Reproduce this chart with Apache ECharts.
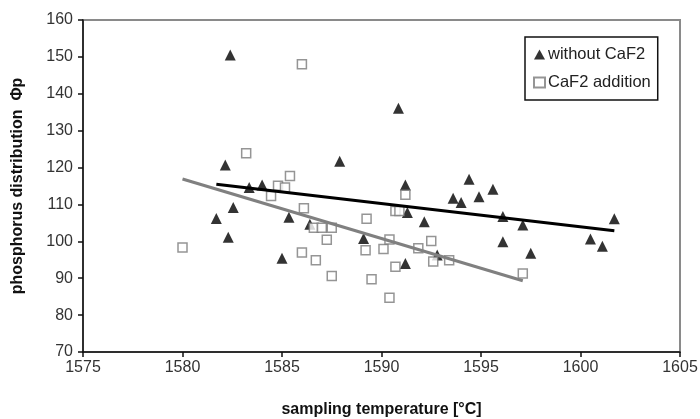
<!DOCTYPE html>
<html>
<head>
<meta charset="utf-8">
<script src="https://cdn.jsdelivr.net/npm/echarts@6/dist/echarts.min.js"></script>
<style>
html,body{margin:0;padding:0;background:#fff;}
#chart{width:700px;height:419px;}
</style>
</head>
<body>
<div id="chart"></div>
<script>
// without CaF2 (black triangles)
var withoutX = [1582.4, 1582.15, 1581.7, 1582.3, 1582.55, 1583.35, 1584.0, 1585.0, 1585.35, 1586.4,
                1587.9, 1589.1, 1590.85, 1591.2, 1591.3, 1591.2, 1592.15, 1592.8, 1593.6, 1594.0,
                1594.4, 1594.9, 1595.6, 1596.1, 1596.1, 1597.1, 1597.5, 1600.5, 1601.1, 1601.7];
var withoutY = [150.5, 120.7, 106.2, 101.1, 109.2, 114.6, 115.3, 95.4, 106.5, 104.6,
                121.7, 100.8, 136.1, 115.3, 107.8, 94.0, 105.3, 96.3, 111.7, 110.5,
                116.8, 112.1, 114.1, 106.7, 99.9, 104.4, 96.8, 100.6, 98.7, 106.1];
// CaF2 addition (hollow grey squares)
var caf2X = [1580.0, 1583.2, 1584.45, 1584.8, 1585.15, 1585.4, 1586.0, 1586.1, 1586.0, 1586.6,
             1587.0, 1587.5, 1587.25, 1586.7, 1587.5, 1589.25, 1589.2, 1589.5, 1590.1, 1590.4,
             1590.4, 1590.7, 1590.9, 1590.7, 1591.2, 1591.85, 1592.5, 1592.6, 1593.4, 1597.1];
var caf2Y = [98.3, 123.9, 112.3, 115.1, 114.6, 117.7, 148.0, 109.0, 97.0, 103.7,
             103.7, 103.7, 100.4, 94.9, 90.6, 106.1, 97.6, 89.7, 97.9, 100.5,
             84.7, 108.2, 108.2, 93.1, 112.6, 98.1, 100.1, 94.5, 94.9, 91.3];
// trend line end points
var trendWithoutX = [1581.7, 1601.7];
var trendWithoutY = [115.5, 102.9];
var trendCaf2X = [1580.0, 1597.1];
var trendCaf2Y = [116.9, 89.3];
// axes
var xTicks = [1575, 1580, 1585, 1590, 1595, 1600, 1605];
var yTicks = [70, 80, 90, 100, 110, 120, 130, 140, 150, 160];
var seriesNames = ['without CaF2', 'CaF2 addition'];

function zip(a, b) { return a.map(function (v, i) { return [v, b[i]]; }); }

var chart = echarts.init(document.getElementById('chart'), null, {renderer: 'canvas'});
var font = 'Arial, "Liberation Sans", sans-serif';
chart.setOption({
  animation: false,
  backgroundColor: '#fff',
  grid: {left: 83, right: 20, top: 20, bottom: 67, show: true, containLabel: false, outerBoundsMode: 'none',
         borderColor: '#8a8a8a', borderWidth: 2, backgroundColor: 'transparent'},
  legend: {
    data: seriesNames,
    orient: 'vertical',
    left: 525, top: 37,
    borderColor: '#111', borderWidth: 1.5,
    padding: [9, 7, 9, 8],
    itemGap: 11,
    itemWidth: 11, itemHeight: 10,
    textStyle: {fontFamily: font, fontSize: 16.5, color: '#222', padding: [0, 0, 0, -2]}
  },
  xAxis: {
    type: 'value',
    min: xTicks[0], max: xTicks[xTicks.length - 1], interval: 5,
    name: 'sampling temperature [°C]',
    nameLocation: 'middle', nameGap: 50,
    nameTextStyle: {fontFamily: font, fontSize: 16, fontWeight: 'bold', color: '#111'},
    axisLine: {lineStyle: {color: '#111', width: 1.5}},
    axisTick: {show: true, length: 5, lineStyle: {color: '#111', width: 1.5}},
    axisLabel: {fontFamily: font, fontSize: 16, color: '#333', margin: 8,
                formatter: function (v) { return String(v); }},
    splitLine: {show: false}
  },
  yAxis: {
    type: 'value',
    min: yTicks[0], max: yTicks[yTicks.length - 1], interval: 10,
    name: 'phosphorus distribution  \u03A6p',
    nameLocation: 'middle', nameGap: 57,
    nameTextStyle: {fontFamily: font, fontSize: 16, fontWeight: 'bold', color: '#111'},
    axisLine: {show: true, lineStyle: {color: '#111', width: 1.5}},
    axisTick: {show: true, length: 5, lineStyle: {color: '#111', width: 1.5}},
    axisLabel: {fontFamily: font, fontSize: 16, color: '#333', margin: 10,
                formatter: function (v) { return String(v); }},
    splitLine: {show: false}
  },
  series: [
    {
      name: seriesNames[0], type: 'scatter', z: 2,
      symbol: 'triangle', symbolSize: 11,
      itemStyle: {color: '#000'},
      data: zip(withoutX, withoutY)
    },
    {
      name: seriesNames[1], type: 'scatter', z: 3,
      symbol: 'rect', symbolSize: 9,
      itemStyle: {color: '#fff', borderColor: '#7a7a7a', borderWidth: 1.5},
      data: zip(caf2X, caf2Y)
    },
    {
      name: 'trend without', type: 'line', z: 4, symbol: 'none',
      lineStyle: {color: '#000', width: 3},
      data: zip(trendWithoutX, trendWithoutY)
    },
    {
      name: 'trend caf2', type: 'line', z: 4, symbol: 'none',
      lineStyle: {color: '#808080', width: 3},
      data: zip(trendCaf2X, trendCaf2Y)
    }
  ]
});
</script>
</body>
</html>
